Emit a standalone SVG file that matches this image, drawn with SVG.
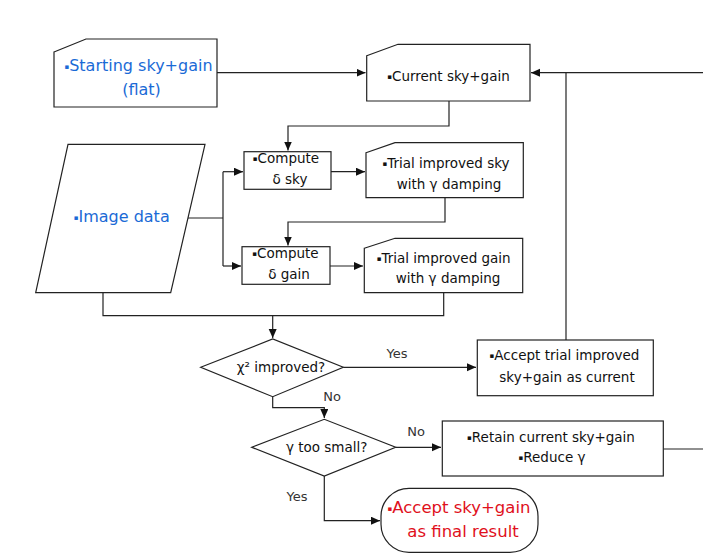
<svg xmlns="http://www.w3.org/2000/svg" width="703" height="556" viewBox="0 0 703 556">
<style>
.sh{fill:#fff;stroke:#222;stroke-width:1.2}
.cn{fill:none;stroke:#222;stroke-width:1.2}
text{font-family:"DejaVu Sans","Liberation Sans",sans-serif;text-anchor:middle}
.t{font-size:13.5px;fill:#111}
.b{font-size:16px;fill:#1a6ad6}
.r{font-size:16.5px;fill:#e0101c}
.l{font-size:13px;fill:#333}
.d{font-size:7px;baseline-shift:2px}
</style>
<defs>
<marker id="ah" markerUnits="userSpaceOnUse" markerWidth="10" markerHeight="10" refX="9" refY="4" orient="auto">
<path d="M0,0 L9,4 L0,8 z" fill="#111"/>
</marker>
</defs>
<rect width="703" height="556" fill="#fff"/>
<g id="connectors">
<path class="cn" d="M217,72.7 H365.5" marker-end="url(#ah)"/>
<path class="cn" d="M703,72.7 H531" marker-end="url(#ah)"/>
<path class="cn" d="M566,340 V72.7"/>
<path class="cn" d="M449,101 V126 H288 V150.5" marker-end="url(#ah)"/>
<path class="cn" d="M188,218 H223 M223,171.7 V266"/>
<path class="cn" d="M223,171.7 H243" marker-end="url(#ah)"/>
<path class="cn" d="M223,266 H241" marker-end="url(#ah)"/>
<path class="cn" d="M331,171.7 H365" marker-end="url(#ah)"/>
<path class="cn" d="M445,197.7 V222 H288 V245.5" marker-end="url(#ah)"/>
<path class="cn" d="M330,266 H363" marker-end="url(#ah)"/>
<path class="cn" d="M443.7,292.7 V315.7 H103 V292.7"/>
<path class="cn" d="M272.7,315.7 V338" marker-end="url(#ah)"/>
<path class="cn" d="M343.3,367.3 H476" marker-end="url(#ah)"/>
<path class="cn" d="M272.7,396.7 V407.7 H324.3 V418" marker-end="url(#ah)"/>
<path class="cn" d="M395.7,447.3 H441" marker-end="url(#ah)"/>
<path class="cn" d="M663.3,449 H703"/>
<path class="cn" d="M324.3,476 V520.7 H380" marker-end="url(#ah)"/>
<text class="l" x="397" y="358">Yes</text>
<text class="l" x="332" y="401">No</text>
<text class="l" x="416" y="436">No</text>
<text class="l" x="297" y="501">Yes</text>
</g>
<g id="start">
<path class="sh" d="M54,52 L86,39 H217 V107 H54 Z"/>
<text class="b" x="138.5" y="70.5"><tspan class="d">▪</tspan>Starting sky+gain</text>
<text class="b" x="141.5" y="94.5">(flat)</text>
</g>
<g id="current">
<path class="sh" d="M366.7,55.7 L398,44.3 H530 V101 H366.7 Z"/>
<text class="t" x="448.5" y="80.5"><tspan class="d">▪</tspan>Current sky+gain</text>
</g>
<g id="image">
<path class="sh" d="M68,144.3 H205 L170.7,292.7 H35.7 Z"/>
<text class="b" x="121.7" y="222"><tspan class="d">▪</tspan>Image data</text>
</g>
<g id="computeSky">
<rect class="sh" x="244" y="151.7" width="87" height="37.6"/>
<text class="t" x="286" y="163"><tspan class="d">▪</tspan>Compute</text>
<text class="t" x="290" y="184">δ sky</text>
</g>
<g id="computeGain">
<rect class="sh" x="242" y="246.7" width="88" height="37.6"/>
<text class="t" x="285.5" y="257.5"><tspan class="d">▪</tspan>Compute</text>
<text class="t" x="289" y="279">δ gain</text>
</g>
<g id="trialSky">
<path class="sh" d="M366,152.7 L395,142.7 H523.3 V197.7 H366 Z"/>
<text class="t" x="446" y="168"><tspan class="d">▪</tspan>Trial improved sky</text>
<text class="t" x="449" y="189">with γ damping</text>
</g>
<g id="trialGain">
<path class="sh" d="M364.3,248.3 L395,238.3 H522.7 V292.7 H364.3 Z"/>
<text class="t" x="443.7" y="263"><tspan class="d">▪</tspan>Trial improved gain</text>
<text class="t" x="448" y="283">with γ damping</text>
</g>
<g id="chi2">
<path class="sh" d="M200.7,367.3 L272.7,339 L343.3,367.3 L272.7,396.7 Z"/>
<text class="t" x="281" y="372">χ² improved?</text>
</g>
<g id="acceptTrial">
<rect class="sh" x="477.3" y="340" width="176" height="55.7"/>
<text class="t" x="564.5" y="360"><tspan class="d">▪</tspan>Accept trial improved</text>
<text class="t" x="567" y="381.5">sky+gain as current</text>
</g>
<g id="gammaSmall">
<path class="sh" d="M251.7,447.3 L324.3,419.3 L395.7,447.3 L324.3,476 Z"/>
<text class="t" x="326.7" y="452">γ too small?</text>
</g>
<g id="retain">
<rect class="sh" x="442.3" y="421" width="221" height="55"/>
<text class="t" x="551" y="441.5"><tspan class="d">▪</tspan>Retain current sky+gain</text>
<text class="t" x="552" y="462"><tspan class="d">▪</tspan>Reduce γ</text>
</g>
<g id="final">
<rect class="sh" x="381" y="488.3" width="157" height="64" rx="28" ry="28"/>
<text class="r" x="459" y="513"><tspan class="d">▪</tspan>Accept sky+gain</text>
<text class="r" x="463" y="537">as final result</text>
</g>
</svg>
